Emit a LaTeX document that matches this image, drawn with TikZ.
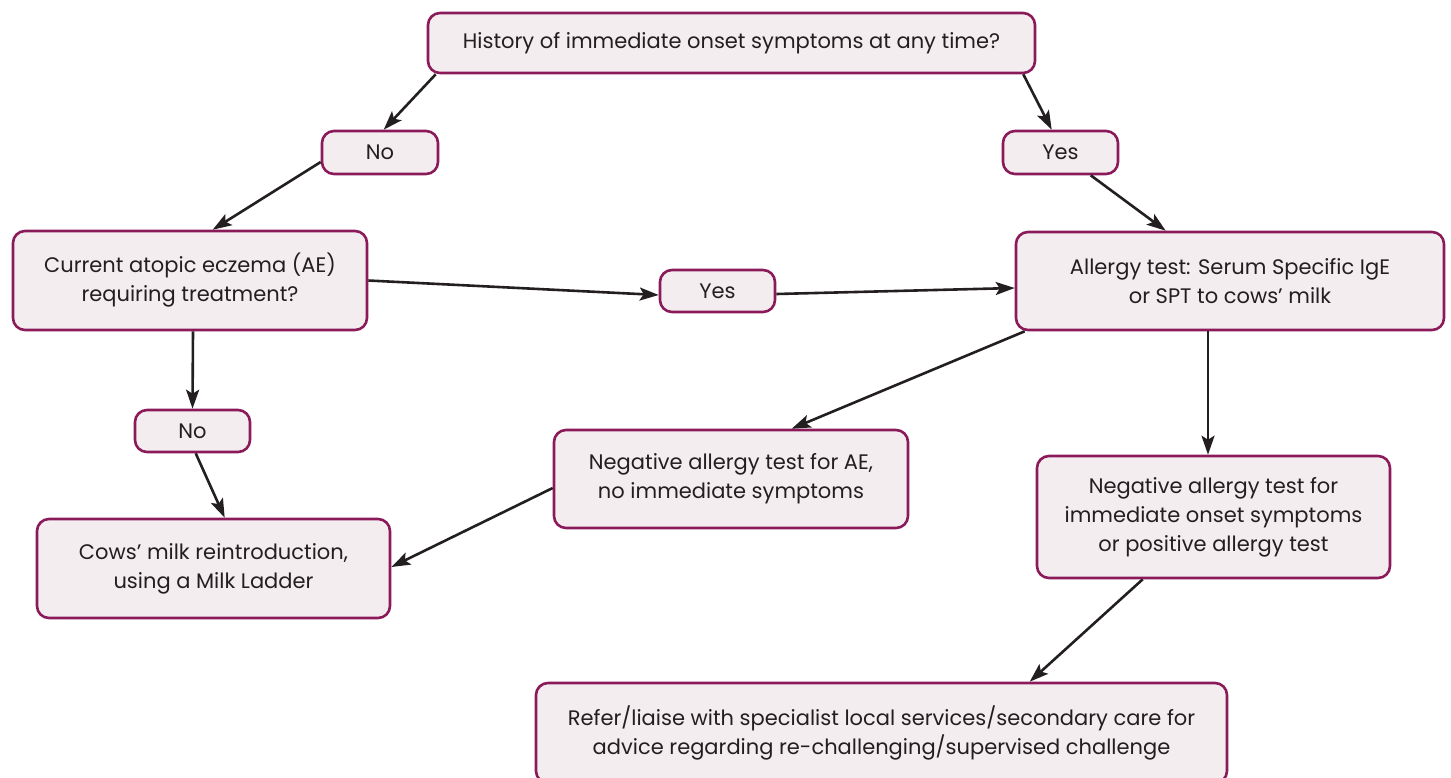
\documentclass[tikz,border=0pt]{standalone}
\usepackage{fontspec}
\setmainfont{Poppins}
\usetikzlibrary{arrows.meta}
\definecolor{bordc}{HTML}{8B1A5A}
\definecolor{fillc}{HTML}{F3EDEF}
\definecolor{txtc}{HTML}{231F20}
\tikzset{
  box/.style={draw=bordc, fill=fillc, line width=2.6pt, rounded corners=12pt,
    text=txtc, align=center, inner sep=0pt, font=\fontsize{21}{29}\selectfont},
  conn/.style={draw=txtc, line width=2.6pt, -{Stealth[length=19pt,width=13pt,inset=4pt]}}
}
\begin{document}
\begin{tikzpicture}[x=1pt,y=-1pt]
\useasboundingbox (0,0) rectangle (1451,777);
\node[box, minimum width=607pt, minimum height=60pt] (top) at (731.5,43) {History of immediate onset symptoms at any time?};
\node[box, minimum width=116pt, minimum height=43pt] (no1) at (380,152.5) {No};
\node[box, minimum width=115pt, minimum height=43pt] (yes1) at (1060.5,152.5) {Yes};
\node[box, minimum width=354pt, minimum height=99pt] (ae) at (190,280.5) {Current atopic eczema (AE)\\requiring treatment?};
\node[box, minimum width=115pt, minimum height=42pt] (yes2) at (717.5,291) {Yes};
\node[box, minimum width=428pt, minimum height=98pt] (allergy) at (1230,281) {Allergy test: Serum Specific IgE\\or SPT to cows’ milk};
\node[box, minimum width=115pt, minimum height=42pt] (no2) at (192.5,431) {No};
\node[box, minimum width=354pt, minimum height=98pt] (negae) at (731,479) {Negative allergy test for AE,\\no immediate symptoms};
\node[box, minimum width=353pt, minimum height=122pt] (negimm) at (1213.5,517) {Negative allergy test for\\immediate onset symptoms\\or positive allergy test};
\node[box, minimum width=353pt, minimum height=99pt] (cows) at (213.5,568.5) {Cows’ milk reintroduction,\\using a Milk Ladder};
\node[box, minimum width=691pt, minimum height=100pt] (refer) at (881.5,733) {Refer/liaise with specialist local services/secondary care for\\advice regarding re-challenging/supervised challenge};

\draw[conn] ([xshift=9pt]top.south west) -- ([xshift=63pt]no1.north west);
\draw[conn] ([xshift=-13pt]top.south east) -- ([xshift=50pt]yes1.north west);
\draw[conn] ([yshift=-9.5pt]no1.west) -- ([xshift=201pt]ae.north west);
\draw[conn] ([xshift=89pt]yes1.south west) -- ([xshift=151pt]allergy.north west);
\draw[conn] (ae.east) -- ([yshift=-4pt]yes2.west);
\draw[conn] ([yshift=-3pt]yes2.east) -- ([yshift=-7pt]allergy.west);
\draw[conn] ([xshift=3pt]ae.south) -- (no2.north);
\draw[conn] ([xshift=62pt]no2.south west) -- ([xshift=189pt]cows.north west);
\draw[conn] ([xshift=10pt]allergy.south west) -- ([xshift=239pt]negae.north west);
\draw[conn] ([xshift=-22pt]allergy.south) -- ([xshift=-5.5pt]negimm.north);
\draw[conn] ([yshift=-9pt]negae.west) -- ([yshift=1.5pt]cows.east);
\draw[conn] ([xshift=107pt]negimm.south west) -- ([xshift=495pt]refer.north west);
\end{tikzpicture}
\end{document}
